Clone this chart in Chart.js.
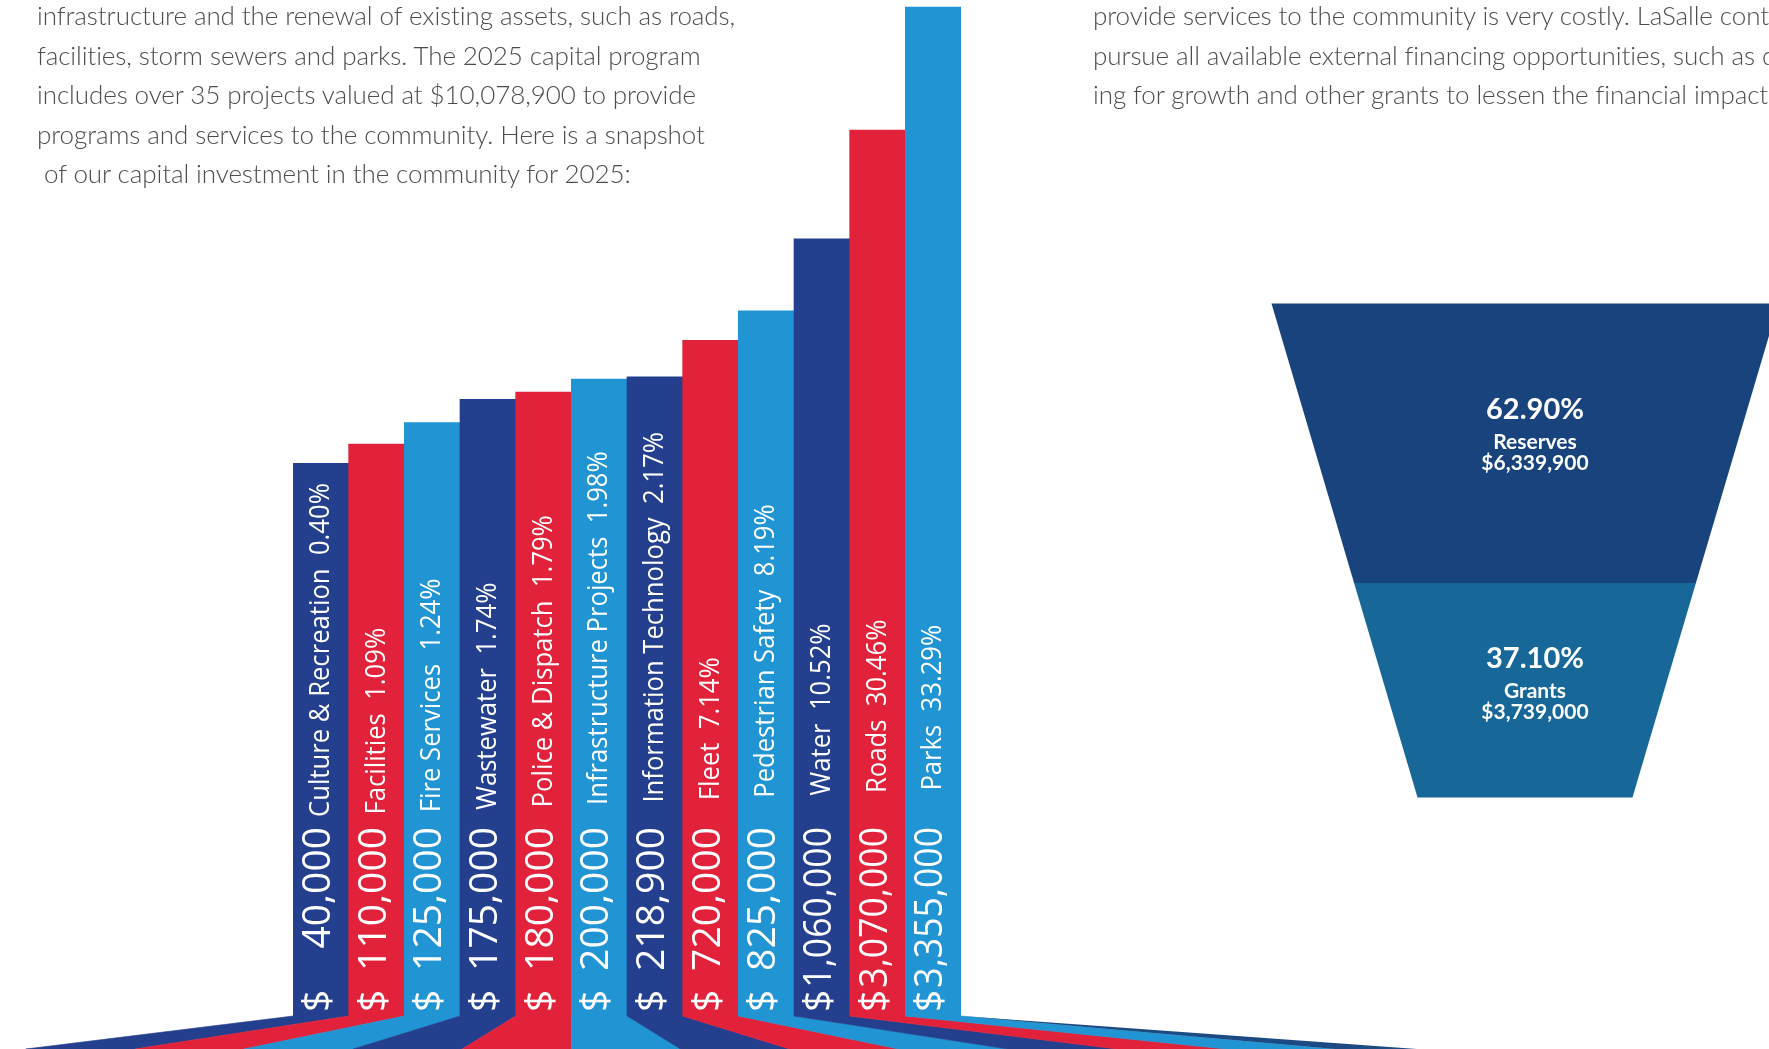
<!DOCTYPE html>
<html>
<head>
<meta charset="utf-8">
<script src="https://cdn.jsdelivr.net/npm/chart.js@4.4.1/dist/chart.umd.min.js"></script>
<style>
  html, body { margin: 0; padding: 0; }
  body { width: 1769px; height: 1049px; overflow: hidden; position: relative; background: #fff; }
  .copy { position: absolute; top: -4px; font-family: Lato, sans-serif; font-weight: 300; font-size: 26px; line-height: 39.5px; letter-spacing: -0.09px; color: #4d4d4d; white-space: pre; }
  #intro { left: 37px; }
  #funding { left: 1093px; }
  #columns { position: absolute; left: 0; top: 0; }
  #funnel { position: absolute; left: 1250px; top: 290px; }
</style>
</head>
<body>
<canvas id="columns" width="1769" height="1049"></canvas>
<canvas id="funnel" width="519" height="530"></canvas>
<div class="copy" id="intro">infrastructure and the renewal of existing assets, such as roads,
facilities, storm sewers and parks. The 2025 capital program
includes over 35 projects valued at $10,078,900 to provide
programs and services to the community. Here is a snapshot
 of our capital investment in the community for 2025:</div>
<div class="copy" id="funding">provide services to the community is very costly. LaSalle conti
pursue all available external financing opportunities, such as d
ing for growth and other grants to lessen the financial impact</div>
<script>
// capital program by service area
const categories = ['Culture & Recreation', 'Facilities', 'Fire Services', 'Wastewater', 'Police & Dispatch',
  'Infrastructure Projects', 'Information Technology', 'Fleet', 'Pedestrian Safety', 'Water', 'Roads', 'Parks'];
const amounts = [40000, 110000, 125000, 175000, 180000, 200000, 218900, 720000, 825000, 1060000, 3070000, 3355000];
const shares = ['0.40', '1.09', '1.24', '1.74', '1.79', '1.98', '2.17', '7.14', '8.19', '10.52', '30.46', '33.29'];

// the columns sit on a stepped value axis, not a linear one
const axisStops = [0, 40000, 110000, 125000, 175000, 180000, 200000, 218900, 720000, 825000, 1060000, 3070000, 3355000, 3400000];
const axisLevels = [0, 54.4, 56.3, 58.4, 60.7, 61.4, 62.7, 62.9, 66.5, 69.4, 76.5, 87.2, 99.3, 100];

// how the program is paid for
const fundingSources = ['Reserves', 'Grants'];
const fundingAmounts = [6339900, 3739000];
const fundingShares = ['62.90', '37.10'];

const palette = ['#243f8d', '#e2213a', '#2194d3'];
const stageColors = ['#18437c', '#176799'];
const pivotIndex = 5; // the floor fans out from the left edge of this column

function levelOf(value) {
  for (let i = 1; i < axisStops.length; i++) {
    if (value <= axisStops[i]) {
      const t = (value - axisStops[i - 1]) / (axisStops[i] - axisStops[i - 1]);
      return axisLevels[i - 1] + t * (axisLevels[i] - axisLevels[i - 1]);
    }
  }
  return 100;
}

function valueOfLevel(level) {
  for (let i = 1; i < axisLevels.length; i++) {
    if (level <= axisLevels[i]) {
      const t = (level - axisLevels[i - 1]) / (axisLevels[i] - axisLevels[i - 1]);
      return axisStops[i - 1] + t * (axisStops[i] - axisStops[i - 1]);
    }
  }
  return axisStops[axisStops.length - 1];
}

class SteppedScale extends Chart.LinearScale {
  getPixelForValue(value) {
    return this.getPixelForDecimal(levelOf(value) / 100);
  }
  getValueForPixel(pixel) {
    return valueOfLevel(this.getDecimalForPixel(pixel) * 100);
  }
}
SteppedScale.id = 'stepped';
SteppedScale.defaults = Chart.LinearScale.defaults;
Chart.register(SteppedScale);

// text running up the column, baseline on the right
function upright(ctx, text, x, y, align, squeeze, maxLen) {
  ctx.save();
  ctx.translate(x, y);
  ctx.rotate(-Math.PI / 2);
  ctx.scale(squeeze, 1);
  ctx.textAlign = align;
  ctx.textBaseline = 'alphabetic';
  if (maxLen) {
    ctx.fillText(text, 0, 0, maxLen / squeeze);
  } else {
    ctx.fillText(text, 0, 0);
  }
  ctx.restore();
}

const floorPlugin = {
  id: 'floor',
  beforeDatasetsDraw(chart) {
    const bars = chart.getDatasetMeta(0).data;
    const ctx = chart.ctx;
    const floorY = chart.height;
    const pivot = bars[pivotIndex].x - bars[pivotIndex].width / 2;
    const spread = (x, k) => pivot + (x - pivot) * k;
    ctx.save();
    bars.forEach((bar) => {
      const l = bar.x - bar.width / 2;
      const r = bar.x + bar.width / 2;
      ctx.fillStyle = bar.options.backgroundColor;
      ctx.strokeStyle = bar.options.backgroundColor;
      ctx.lineWidth = 0.6;
      ctx.beginPath();
      ctx.moveTo(l, bar.base);
      ctx.lineTo(r, bar.base);
      ctx.lineTo(spread(r, 1.96), floorY);
      ctx.lineTo(spread(l, 1.96), floorY);
      ctx.closePath();
      ctx.fill();
      ctx.stroke();
    });
    // darker sliver past the last ribbon
    const last = bars[bars.length - 1];
    const edge = last.x + last.width / 2;
    ctx.fillStyle = '#1c4a82';
    ctx.beginPath();
    ctx.moveTo(edge, last.base);
    ctx.lineTo(spread(edge, 2.17), floorY);
    ctx.lineTo(spread(edge, 1.96), floorY);
    ctx.closePath();
    ctx.fill();
    ctx.restore();
  }
};

const columnLabels = {
  id: 'columnLabels',
  afterDatasetsDraw(chart) {
    const ctx = chart.ctx;
    ctx.save();
    ctx.fillStyle = '#ffffff';
    chart.getDatasetMeta(0).data.forEach((bar, i) => {
      const baseline = bar.x - bar.width / 2 + 37;
      ctx.font = '39px "Open Sans"';
      const dollarLen = ctx.measureText('$').width;
      upright(ctx, '$', baseline, bar.base - 4, 'left', 1);
      // amount is right-aligned; long ones are squeezed to clear the dollar sign
      upright(ctx, amounts[i].toLocaleString('en-US'), baseline, bar.base - 189, 'right', 1, 183 - dollarLen);
      // names step up slightly from column to column
      ctx.font = '27px "Open Sans"';
      upright(ctx, categories[i] + '  ' + shares[i] + '%', baseline - 1, bar.base - 199 - i * 2.4, 'left', 0.95);
    });
    ctx.restore();
  }
};

// funnel: straight cone, each stage's depth follows the square root of its share
const neck = 0.424;
const halfWidth = (d) => 1 - (1 - neck) * d;
const rootTotal = fundingAmounts.reduce((a, v) => a + Math.sqrt(v), 0);
const stageBounds = [0];
let running = 0;
fundingAmounts.forEach((v) => {
  running += Math.sqrt(v) / rootTotal;
  stageBounds.push(Math.min(1, running));
});

const funnelLabels = {
  id: 'funnelLabels',
  afterDatasetsDraw(chart) {
    const ctx = chart.ctx;
    const xs = chart.scales.x;
    const ys = chart.scales.y;
    const cx = xs.getPixelForValue(0) + 10;
    ctx.save();
    ctx.fillStyle = '#ffffff';
    ctx.textAlign = 'center';
    ctx.textBaseline = 'alphabetic';
    fundingSources.forEach((name, i) => {
      const d0 = stageBounds[i];
      const d1 = stageBounds[i + 1];
      // label block sits a little above the stage middle
      const cy = ys.getPixelForValue(d0 + (d1 - d0) * 0.47);
      ctx.font = 'bold 29px Lato';
      ctx.fillText(fundingShares[i] + '%', cx, cy - 16);
      ctx.font = 'bold 21px Lato';
      ctx.fillText(name, cx, cy + 14);
      ctx.fillText('$' + fundingAmounts[i].toLocaleString('en-US'), cx, cy + 35);
    });
    ctx.restore();
  }
};

function draw() {
  new Chart(document.getElementById('columns'), {
    type: 'bar',
    data: {
      labels: categories,
      datasets: [{
        data: amounts,
        backgroundColor: amounts.map((v, i) => palette[i % palette.length]),
        borderWidth: 0,
        barPercentage: 1,
        categoryPercentage: 1,
      }],
    },
    options: {
      responsive: false,
      animation: false,
      layout: { padding: { left: 293, right: 808, top: 0, bottom: 33 } },
      plugins: { legend: { display: false }, tooltip: { enabled: false } },
      scales: {
        x: { display: false },
        y: { type: 'stepped', display: false, min: 0, max: 3400000 },
      },
    },
    plugins: [floorPlugin, columnLabels],
  });

  new Chart(document.getElementById('funnel'), {
    type: 'scatter',
    data: {
      datasets: fundingSources.map((name, i) => {
        const d0 = stageBounds[i];
        const d1 = stageBounds[i + 1];
        return {
          label: name,
          data: [
            { x: -halfWidth(d0), y: d0 },
            { x: halfWidth(d0), y: d0 },
            { x: halfWidth(d1), y: d1 },
            { x: -halfWidth(d1), y: d1 },
            { x: -halfWidth(d0), y: d0 },
          ],
          showLine: true,
          fill: 'shape',
          backgroundColor: stageColors[i],
          borderColor: 'transparent',
          borderWidth: 0,
          pointRadius: 0,
          tension: 0,
        };
      }),
    },
    options: {
      responsive: false,
      animation: false,
      layout: { padding: 0 },
      plugins: { legend: { display: false }, tooltip: { enabled: false } },
      scales: {
        x: { type: 'linear', display: false, min: -1.0848, max: 0.9625 },
        y: { type: 'linear', display: false, reverse: true, min: -0.0273, max: 1.0453 },
      },
    },
    plugins: [funnelLabels],
  });
}

Promise.all(['39px "Open Sans"', '27px "Open Sans"', 'bold 29px Lato', '300 26px Lato']
  .map((f) => document.fonts.load(f))).then(draw, draw);
</script>
</body>
</html>
